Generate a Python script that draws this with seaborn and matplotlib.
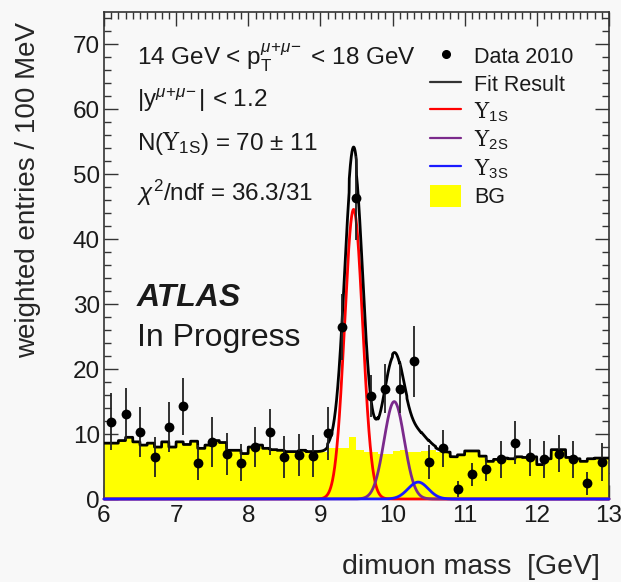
import numpy as np
import matplotlib
matplotlib.use("Agg")
import matplotlib.pyplot as plt
from matplotlib.lines import Line2D
from matplotlib.patches import Patch
from matplotlib.ticker import MultipleLocator
import seaborn as sns

# ---- data -------------------------------------------------------------
# dimuon mass bin centres [GeV] and weighted entries with errors
mass = [6.1, 6.3, 6.5, 6.7, 6.9, 7.1, 7.3, 7.5, 7.7, 7.9, 8.1, 8.3, 8.5, 8.7,
        8.9, 9.1, 9.3, 9.5, 9.7, 9.9, 10.1, 10.3, 10.5, 10.7, 10.9, 11.1,
        11.3, 11.5, 11.7, 11.9, 12.1, 12.3, 12.5, 12.7, 12.9]
entries = [11.9, 13.1, 10.3, 6.5, 11.1, 14.3, 5.6, 8.8, 6.9, 5.6, 8.0, 10.3,
           6.5, 6.8, 6.6, 10.1, 26.5, 46.4, 15.9, 17.0, 17.0, 21.2, 5.7, 7.8,
           1.5, 3.8, 4.6, 6.1, 8.7, 6.4, 6.1, 7.0, 6.1, 2.4, 5.7]
errors = [4.4, 4.0, 3.8, 3.1, 3.8, 4.4, 2.7, 3.8, 3.2, 2.8, 3.1, 3.5, 3.2, 3.2,
          3.2, 4.1, 5.1, 6.5, 3.2, 3.8, 3.8, 5.5, 2.6, 2.8, 1.2, 1.8, 1.9, 2.8,
          3.3, 2.9, 2.8, 2.8, 2.8, 1.8, 2.9]

# background template, 100 MeV bins from 6 to 13 GeV
bg_lo, bg_hi = 6.0, 13.0
bg_counts = [8.6, 8.6, 9.0, 9.5, 8.8, 8.3, 8.6, 8.0, 8.8, 8.0,
             8.8, 8.4, 8.9, 7.8, 8.3, 9.0, 8.7, 7.5, 7.5, 7.0,
             8.0, 8.3, 7.8, 7.6, 7.5, 7.3, 7.3, 7.5, 7.3, 7.3,
             7.3, 7.8, 7.8, 7.8, 9.6, 7.5, 7.3, 7.3, 7.0, 7.0,
             7.4, 7.6, 7.3, 7.3, 7.4, 7.5, 7.3, 7.2, 6.5, 6.8,
             7.4, 7.4, 6.6, 5.8, 6.1, 6.3, 6.2, 6.5, 6.4, 6.5,
             5.3, 6.2, 7.6, 7.6, 6.4, 6.2, 5.8, 6.2, 6.3, 6.3]

# fitted Upsilon(1S,2S,3S) line shapes: mass, peak height, width [GeV]
peak_names = ["1S", "2S", "3S"]
peak_mass = [9.46, 10.023, 10.355]
peak_height = [44.6, 15.0, 2.6]
peak_sigma = [0.125, 0.14, 0.14]
peak_colors = ["#ff0000", "#7b2a8c", "#1a1aff"]

# ---- style ------------------------------------------------------------
sns.set_theme(style="ticks")
paper = "#f8f8f8"
plt.rcParams.update({
    "font.family": ["Liberation Sans", "DejaVu Sans"],
    "mathtext.fontset": "custom",
    "mathtext.rm": "Liberation Sans",
    "mathtext.it": "Liberation Sans:italic",
    "mathtext.sf": "Liberation Sans",
    "mathtext.tt": "DejaVu Serif",
    "mathtext.bf": "Liberation Sans:bold",
    "text.color": "#1a1a1a",
})

fig = plt.figure(figsize=(6.21, 5.82), dpi=100, facecolor=paper)
ax = fig.add_axes([104 / 621, 1 - 499 / 582, 505 / 621, 487 / 582])
ax.set_facecolor(paper)

# background histogram
edges = np.linspace(bg_lo, bg_hi, len(bg_counts) + 1)
bg = np.asarray(bg_counts)
ax.stairs(bg, edges, fill=True, color="#ffff00", lw=0, zorder=1)

# fit components evaluated on a fine grid
xf = np.linspace(bg_lo, bg_hi, 2801)
idx = np.clip(np.floor((xf - bg_lo) / (edges[1] - edges[0]) + 1e-9).astype(int),
              0, len(bg) - 1)
comps = []
for m, h, s in zip(peak_mass, peak_height, peak_sigma):
    comps.append(h * np.exp(-0.5 * ((xf - m) / s) ** 2))
fit_total = bg[idx] + np.sum(comps, axis=0)

for comp, col in zip(comps, peak_colors):
    sns.lineplot(x=xf, y=comp, color=col, lw=2.0, ax=ax, sort=False,
                 estimator=None, zorder=3, clip_on=False)
sns.lineplot(x=xf, y=fit_total, color="black", lw=2.0, ax=ax, sort=False,
             estimator=None, zorder=4)

# data points
ax.errorbar(mass, entries, yerr=errors, fmt="none", ecolor="#222222",
            elinewidth=1.3, capsize=0, zorder=5)
sns.scatterplot(x=mass, y=entries, color="black", s=50, marker="o",
                edgecolor="black", linewidth=0, ax=ax, zorder=6)

# ---- axes ---------------------------------------------------------------
ax.set_xlim(bg_lo, bg_hi)
ax.set_ylim(0, 75)
ax.xaxis.set_major_locator(MultipleLocator(1))
ax.xaxis.set_minor_locator(MultipleLocator(0.1))
ax.yaxis.set_major_locator(MultipleLocator(10))
ax.yaxis.set_minor_locator(MultipleLocator(2))
ax.tick_params(which="both", direction="in", top=True, right=True,
               color="#333333", width=1.0, labelsize=17.5,
               labelcolor="#1a1a1a")
ax.tick_params(which="major", length=10)
ax.tick_params(which="minor", length=5)
ax.tick_params(axis="x", pad=4)
ax.tick_params(axis="y", pad=3)
for sp in ax.spines.values():
    sp.set_linewidth(1.2)
    sp.set_color("#333333")

ax.set_xlabel("dimuon mass  [GeV]", fontsize=20.5, loc="right")
ax.set_ylabel("weighted entries / 100 MeV", fontsize=20, loc="top")
ax.xaxis.set_label_coords(0.982, -0.113)
ax.yaxis.set_label_coords(-0.125, 0.979)

# ---- annotations -----------------------------------------------------------
tx = 6.457
info = dict(fontsize=17.5, va="center", ha="left")
ax.text(tx, 67.9, r"14 GeV < $\mathrm{p}_{\mathrm{T}}^{\mu\!+\!\mu\!-}$ < 18 GeV", **info)
ax.text(tx, 61.5, r"|$\mathrm{y}^{\mu\!+\!\mu\!-}$| < 1.2", **info)
ax.text(tx, 54.8, r"N($\mathtt{Υ}_{\mathsf{1S}}$) = 70 ± 11", **info)
ax.text(tx, 47.1, r"$\chi^{2}$/ndf = 36.3/31", **info)
ax.text(tx, 31.0, "ATLAS", fontsize=23, fontweight="bold", fontstyle="italic",
        va="center", ha="left")
ax.text(tx, 24.8, "In Progress", fontsize=23, va="center", ha="left")

handles = [
    Line2D([], [], ls="none", marker="o", color="black", ms=5.5),
    Line2D([], [], color="#333333", lw=1.6),
]
handles += [Line2D([], [], color=c, lw=1.6) for c in peak_colors]
handles.append(Patch(facecolor="#ffff00", edgecolor="none"))
labels = ["Data 2010", "Fit Result"]
labels += [r"$\mathtt{Υ}_{\mathsf{%s}}$" % n for n in peak_names]
labels.append("BG")
ax.legend(handles, labels, loc="upper left", bbox_to_anchor=(0.6455, 0.932),
          frameon=False, fontsize=15.5, handlelength=1.45, handleheight=1.2,
          handletextpad=0.6, labelspacing=0.2, borderpad=0, borderaxespad=0)

fig.savefig("out.png", dpi=100, facecolor=paper)
